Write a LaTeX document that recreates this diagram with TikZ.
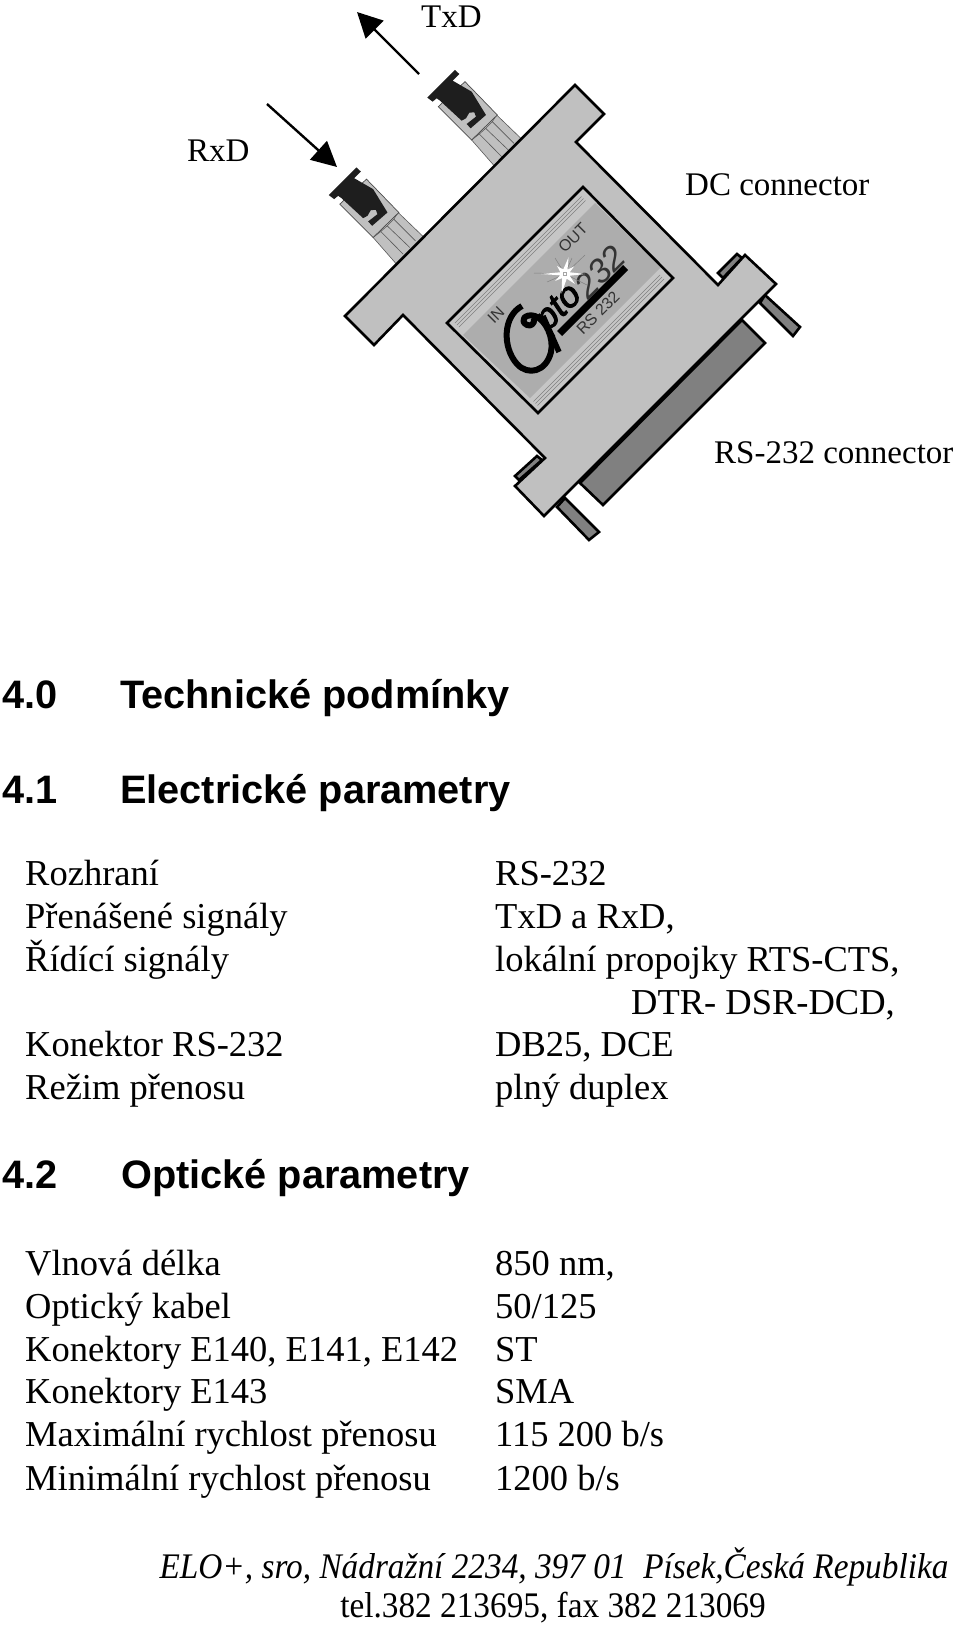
\documentclass[tikz,border=0pt]{standalone}
\usepackage{fontspec}
\setmainfont{Liberation Serif}
\newfontfamily\arialf{Liberation Sans}
\newfontfamily\ptofont[FakeBold=2.5]{Liberation Sans}
\usetikzlibrary{arrows.meta}
\definecolor{bodygrey}{HTML}{C0C0C0}
\definecolor{stripgrey}{HTML}{C6C6C6}
\definecolor{paneldark}{HTML}{ADADAD}
\definecolor{pingrey}{HTML}{808080}
\definecolor{inkdark}{HTML}{1E1E1E}
\tikzset{
 lab/.style={anchor=base west,inner sep=0pt,font=\fontsize{33}{36}\selectfont},
 row/.style={anchor=base west,inner sep=0pt,font=\fontsize{36.5}{40}\selectfont},
 headx/.style={anchor=base west,inner sep=0pt,font=\arialf\bfseries\fontsize{39.7}{44}\selectfont},
 foot/.style={anchor=base,inner sep=0pt,xscale=.925,font=\fontsize{36}{40}\selectfont},
 logo/.style={inner sep=0pt,rotate=45,text=black!80,font=\arialf\fontsize{#1}{#1}\selectfont},
 logo/.default=16,
 outl/.style={draw=black,line width=2.6pt,line join=miter},
 arr/.style={-{Triangle[length=25pt,width=25pt]},line width=2.4pt},
 stripe/.style={draw=black!50,line width=.6pt},
 rib/.style={draw=black!65,line width=.6pt}
}
\newcommand\fiberconn[1]{%
\begin{scope}[shift={(#1)},x=0.3333pt,y=-0.3333pt]
 \filldraw[fill=bodygrey,rib] (695,420)--(770,345)--(848,420)--(765,500)--cycle;
 \draw[rib] (718,402)--(785,470) (737,385)--(805,450) (757,365)--(822,430);
 \draw[rib] (695,420)--(718,402)--(737,385)--(757,365)--(770,345);
 \filldraw[fill=bodygrey,draw=black!70,line width=.7pt] (595,320)--(675,245)--(772,345)--(695,420)--cycle;
 \fill[inkdark] (562,293)--(645,210)--(658,222)--(638,242)--(695,275)--(738,345)--(692,385)--(680,372)--(708,350)--(703,337)--(688,338)--(678,355)--(665,362)--(600,302)--(590,295)--(578,305)--cycle;
\end{scope}}
\begin{document}
\begin{tikzpicture}[x=1pt,y=-1pt]
\useasboundingbox (0,0) rectangle (960,1628);
% arrows
\coordinate (txs) at (419,74); \coordinate (txe) at (357,12);
\coordinate (rxs) at (267,104); \coordinate (rxe) at (337,167);
\draw[arr] (txs)--(txe);
\draw[arr] (rxs)--(rxe);
\node[lab] (tx) at (421,27) {TxD};
\node[lab] (rx) at (187,161) {RxD};
\node[lab] (dc) at (685,195) {DC connector};
\node[lab] (rs) at (714,463) {RS-232 connector};
% fibre connectors
\fiberconn{240,0}
\fiberconn{141.5,97.5}
% pins and D-sub shell
\filldraw[fill=pingrey,outl] (765,295)--(800,327)--(793,336)--(760,303)--cycle;
\filldraw[fill=pingrey,outl] (565,498)--(599,532)--(589,540)--(557,507)--cycle;
\filldraw[fill=pingrey,outl] (718,273)--(737,254)--(742,258)--(723,278)--cycle;
\filldraw[fill=pingrey,outl] (515,476)--(537,456)--(542,460)--(519,480)--cycle;
\filldraw[fill=pingrey,outl] (742,320)--(765,343)--(603,505)--(580,483)--cycle;
% body
\filldraw[fill=bodygrey,outl] (345,316)--(374,345)--(403,315)--(545,458)--(515,486)--(544,516)--(776,284)--(745,255)--(718,285)--(576,142)--(604,114)--(575,85)--cycle;
% panel
\fill[stripgrey] (583,187)--(673,278)--(538,413)--(447,323)--cycle;
\fill[paneldark] (463,335)--(595,203)--(661,267)--(530,398)--cycle;
\draw[stripe] (455,323)--(581.5,196.5) (457,325)--(583.5,198.5) (459,327)--(585.5,200.5);
\draw[stripe] (533.5,401.5)--(660,275) (535.5,403.5)--(662,277) (537.5,405.5)--(664,279);
\draw[outl] (583,187)--(673,278)--(538,413)--(447,323)--cycle;
% logo
\node[logo=16] (out) at (573,238) {OUT};
\node[logo=16] (in) at (496,315) {IN};
\node[logo=16] (rs2) at (598,313) {RS 232};
\node[logo=34] (n232) at (600,272) {\itshape 232};
\fill[black] (557,331)--(623,265)--(628,270)--(562,336)--cycle;
\draw[line width=6pt,line cap=butt,line join=round] (522,306) .. controls (503,316) and (502,347) .. (517,364) .. controls (528,376) and (546,372) .. (551,352) .. controls (554,338) and (546,320) .. (535,316) .. controls (525,313) and (519,321) .. (527,325) .. controls (531,327) and (535,323) .. (534,319);
\draw[line width=5.5pt,line cap=butt] (543,316)--(559,352);
\node[inner sep=0pt,rotate=45,font=\ptofont\itshape\fontsize{36}{36}\selectfont] (pto) at (560,309) {pto};
% star
\draw[black!50,line width=.5pt] (534,273)--(565,274) (585,255)--(565,274) (555,258)--(565,274) (572,258)--(565,274) (547,282)--(565,274) (587,285)--(565,274);
\fill[white] (565,274)+(0:20) -- +(20:5) -- +(45:14) -- +(70:5) -- +(100:20) -- +(125:5) -- +(145:12) -- +(165:5) -- +(180:24) -- +(200:5) -- +(225:11) -- +(250:5) -- +(282:17) -- +(300:5) -- +(320:12) -- +(340:5) -- cycle;
\fill[black!35] (563,272) rectangle (567,276);
\fill[white] (564,273) rectangle (566,275);
% headings
\node[headx] (h0n) at (2,708) {4.0};
\node[headx] (h0) at (120,708) {Technické podmínky};
\node[headx] (h1n) at (2,803) {4.1};
\node[headx] (h1) at (120,803) {Electrické parametry};
\node[headx] (h2n) at (2,1188) {4.2};
\node[headx] (h2) at (121,1188) {Optické parametry};
% table 1
\node[row] (a1) at (25,885) {Rozhraní};
\node[row] (a2) at (25,928) {Přenášené signály};
\node[row] (a3) at (25,971) {Řídící signály};
\node[row] (a5) at (25,1056) {Konektor RS-232};
\node[row] (a6) at (25,1099) {Režim přenosu};
\node[row] (b1) at (495,885) {RS-232};
\node[row] (b2) at (495,928) {TxD a RxD,};
\node[row] (b3) at (495,971) {lokální propojky RTS-CTS,};
\node[row] (b4) at (631,1014) {DTR- DSR-DCD,};
\node[row] (b5) at (495,1056) {DB25, DCE};
\node[row] (b6) at (495,1099) {plný duplex};
% table 2
\node[row] (c1) at (25,1275) {Vlnová délka};
\node[row] (c2) at (25,1318) {Optický kabel};
\node[row] (c3) at (25,1361) {Konektory E140, E141, E142};
\node[row] (c4) at (25,1403) {Konektory E143};
\node[row] (c5) at (25,1446) {Maximální rychlost přenosu};
\node[row] (c6) at (25,1490) {Minimální rychlost přenosu};
\node[row] (d1) at (495,1275) {850 nm,};
\node[row] (d2) at (495,1318) {50/125};
\node[row] (d3) at (495,1361) {ST};
\node[row] (d4) at (495,1403) {SMA};
\node[row] (d5) at (495,1446) {115 200 b/s};
\node[row] (d6) at (495,1490) {1200 b/s};
% footer
\node[foot] (f1) at (554,1578) {\itshape ELO+, sro, Nádražní 2234, 397 01\ \ Písek,Česká Republika};
\node[foot] (f2) at (553,1617) {tel.382 213695, fax 382 213069};
\end{tikzpicture}
\end{document}
